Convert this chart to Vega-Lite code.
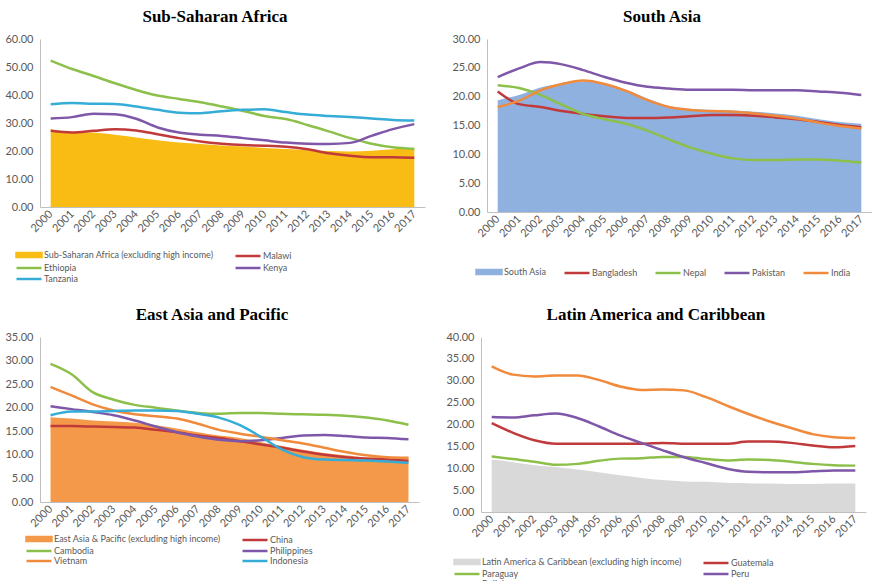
{
"$schema": "https://vega.github.io/schema/vega-lite/v6.json",
"background": "white",
"padding": {"left": 4, "top": 8, "right": 0, "bottom": 0},
"datasets": {
"ssa": [
{"year":"2000","series":"Sub-Saharan Africa (excluding high income)","value":27.8},
{"year":"2001","series":"Sub-Saharan Africa (excluding high income)","value":26.8},
{"year":"2002","series":"Sub-Saharan Africa (excluding high income)","value":26.6},
{"year":"2003","series":"Sub-Saharan Africa (excluding high income)","value":25.8},
{"year":"2004","series":"Sub-Saharan Africa (excluding high income)","value":24.8},
{"year":"2005","series":"Sub-Saharan Africa (excluding high income)","value":23.8},
{"year":"2006","series":"Sub-Saharan Africa (excluding high income)","value":23.0},
{"year":"2007","series":"Sub-Saharan Africa (excluding high income)","value":22.5},
{"year":"2008","series":"Sub-Saharan Africa (excluding high income)","value":22.0},
{"year":"2009","series":"Sub-Saharan Africa (excluding high income)","value":21.6},
{"year":"2010","series":"Sub-Saharan Africa (excluding high income)","value":21.1},
{"year":"2011","series":"Sub-Saharan Africa (excluding high income)","value":20.7},
{"year":"2012","series":"Sub-Saharan Africa (excluding high income)","value":20.3},
{"year":"2013","series":"Sub-Saharan Africa (excluding high income)","value":20.0},
{"year":"2014","series":"Sub-Saharan Africa (excluding high income)","value":19.8},
{"year":"2015","series":"Sub-Saharan Africa (excluding high income)","value":20.1},
{"year":"2016","series":"Sub-Saharan Africa (excluding high income)","value":20.6},
{"year":"2017","series":"Sub-Saharan Africa (excluding high income)","value":21.2},
{"year":"2000","series":"Malawi","value":27.2},
{"year":"2001","series":"Malawi","value":26.6},
{"year":"2002","series":"Malawi","value":27.2},
{"year":"2003","series":"Malawi","value":27.8},
{"year":"2004","series":"Malawi","value":27.3},
{"year":"2005","series":"Malawi","value":26.0},
{"year":"2006","series":"Malawi","value":24.6},
{"year":"2007","series":"Malawi","value":23.4},
{"year":"2008","series":"Malawi","value":22.6},
{"year":"2009","series":"Malawi","value":22.1},
{"year":"2010","series":"Malawi","value":21.9},
{"year":"2011","series":"Malawi","value":21.5},
{"year":"2012","series":"Malawi","value":20.6},
{"year":"2013","series":"Malawi","value":19.2},
{"year":"2014","series":"Malawi","value":18.3},
{"year":"2015","series":"Malawi","value":17.8},
{"year":"2016","series":"Malawi","value":17.8},
{"year":"2017","series":"Malawi","value":17.6},
{"year":"2000","series":"Ethiopia","value":52.3},
{"year":"2001","series":"Ethiopia","value":49.3},
{"year":"2002","series":"Ethiopia","value":46.8},
{"year":"2003","series":"Ethiopia","value":44.2},
{"year":"2004","series":"Ethiopia","value":41.8},
{"year":"2005","series":"Ethiopia","value":39.8},
{"year":"2006","series":"Ethiopia","value":38.6},
{"year":"2007","series":"Ethiopia","value":37.4},
{"year":"2008","series":"Ethiopia","value":35.9},
{"year":"2009","series":"Ethiopia","value":34.3},
{"year":"2010","series":"Ethiopia","value":32.5},
{"year":"2011","series":"Ethiopia","value":31.4},
{"year":"2012","series":"Ethiopia","value":29.3},
{"year":"2013","series":"Ethiopia","value":27.0},
{"year":"2014","series":"Ethiopia","value":24.6},
{"year":"2015","series":"Ethiopia","value":22.6},
{"year":"2016","series":"Ethiopia","value":21.3},
{"year":"2017","series":"Ethiopia","value":20.7},
{"year":"2000","series":"Kenya","value":31.6},
{"year":"2001","series":"Kenya","value":32.1},
{"year":"2002","series":"Kenya","value":33.3},
{"year":"2003","series":"Kenya","value":33.1},
{"year":"2004","series":"Kenya","value":31.5},
{"year":"2005","series":"Kenya","value":28.4},
{"year":"2006","series":"Kenya","value":26.6},
{"year":"2007","series":"Kenya","value":25.8},
{"year":"2008","series":"Kenya","value":25.4},
{"year":"2009","series":"Kenya","value":24.6},
{"year":"2010","series":"Kenya","value":23.8},
{"year":"2011","series":"Kenya","value":23.0},
{"year":"2012","series":"Kenya","value":22.6},
{"year":"2013","series":"Kenya","value":22.5},
{"year":"2014","series":"Kenya","value":22.9},
{"year":"2015","series":"Kenya","value":25.4},
{"year":"2016","series":"Kenya","value":27.8},
{"year":"2017","series":"Kenya","value":29.6},
{"year":"2000","series":"Tanzania","value":36.7},
{"year":"2001","series":"Tanzania","value":37.1},
{"year":"2002","series":"Tanzania","value":36.9},
{"year":"2003","series":"Tanzania","value":36.8},
{"year":"2004","series":"Tanzania","value":35.9},
{"year":"2005","series":"Tanzania","value":34.7},
{"year":"2006","series":"Tanzania","value":33.7},
{"year":"2007","series":"Tanzania","value":33.5},
{"year":"2008","series":"Tanzania","value":34.2},
{"year":"2009","series":"Tanzania","value":34.7},
{"year":"2010","series":"Tanzania","value":34.9},
{"year":"2011","series":"Tanzania","value":33.9},
{"year":"2012","series":"Tanzania","value":33.0},
{"year":"2013","series":"Tanzania","value":32.5},
{"year":"2014","series":"Tanzania","value":32.1},
{"year":"2015","series":"Tanzania","value":31.6},
{"year":"2016","series":"Tanzania","value":31.1},
{"year":"2017","series":"Tanzania","value":30.9}
],
"sa": [
{"year":"2000","series":"South Asia","value":19.4},
{"year":"2001","series":"South Asia","value":20.3},
{"year":"2002","series":"South Asia","value":21.6},
{"year":"2003","series":"South Asia","value":22.3},
{"year":"2004","series":"South Asia","value":22.6},
{"year":"2005","series":"South Asia","value":22.3},
{"year":"2006","series":"South Asia","value":21.2},
{"year":"2007","series":"South Asia","value":19.7},
{"year":"2008","series":"South Asia","value":18.4},
{"year":"2009","series":"South Asia","value":17.9},
{"year":"2010","series":"South Asia","value":17.7},
{"year":"2011","series":"South Asia","value":17.6},
{"year":"2012","series":"South Asia","value":17.4},
{"year":"2013","series":"South Asia","value":17.1},
{"year":"2014","series":"South Asia","value":16.7},
{"year":"2015","series":"South Asia","value":16.1},
{"year":"2016","series":"South Asia","value":15.6},
{"year":"2017","series":"South Asia","value":15.3},
{"year":"2000","series":"Bangladesh","value":20.9},
{"year":"2001","series":"Bangladesh","value":18.7},
{"year":"2002","series":"Bangladesh","value":18.2},
{"year":"2003","series":"Bangladesh","value":17.5},
{"year":"2004","series":"Bangladesh","value":17.0},
{"year":"2005","series":"Bangladesh","value":16.6},
{"year":"2006","series":"Bangladesh","value":16.3},
{"year":"2007","series":"Bangladesh","value":16.3},
{"year":"2008","series":"Bangladesh","value":16.4},
{"year":"2009","series":"Bangladesh","value":16.6},
{"year":"2010","series":"Bangladesh","value":16.8},
{"year":"2011","series":"Bangladesh","value":16.8},
{"year":"2012","series":"Bangladesh","value":16.7},
{"year":"2013","series":"Bangladesh","value":16.4},
{"year":"2014","series":"Bangladesh","value":16.1},
{"year":"2015","series":"Bangladesh","value":15.6},
{"year":"2016","series":"Bangladesh","value":15.1},
{"year":"2017","series":"Bangladesh","value":14.7},
{"year":"2000","series":"Nepal","value":22.0},
{"year":"2001","series":"Nepal","value":21.5},
{"year":"2002","series":"Nepal","value":20.3},
{"year":"2003","series":"Nepal","value":18.6},
{"year":"2004","series":"Nepal","value":17.0},
{"year":"2005","series":"Nepal","value":16.1},
{"year":"2006","series":"Nepal","value":15.3},
{"year":"2007","series":"Nepal","value":14.1},
{"year":"2008","series":"Nepal","value":12.6},
{"year":"2009","series":"Nepal","value":11.2},
{"year":"2010","series":"Nepal","value":10.1},
{"year":"2011","series":"Nepal","value":9.3},
{"year":"2012","series":"Nepal","value":9.0},
{"year":"2013","series":"Nepal","value":9.0},
{"year":"2014","series":"Nepal","value":9.1},
{"year":"2015","series":"Nepal","value":9.1},
{"year":"2016","series":"Nepal","value":8.9},
{"year":"2017","series":"Nepal","value":8.6},
{"year":"2000","series":"Pakistan","value":23.4},
{"year":"2001","series":"Pakistan","value":24.9},
{"year":"2002","series":"Pakistan","value":26.0},
{"year":"2003","series":"Pakistan","value":25.6},
{"year":"2004","series":"Pakistan","value":24.6},
{"year":"2005","series":"Pakistan","value":23.4},
{"year":"2006","series":"Pakistan","value":22.4},
{"year":"2007","series":"Pakistan","value":21.7},
{"year":"2008","series":"Pakistan","value":21.4},
{"year":"2009","series":"Pakistan","value":21.2},
{"year":"2010","series":"Pakistan","value":21.2},
{"year":"2011","series":"Pakistan","value":21.2},
{"year":"2012","series":"Pakistan","value":21.1},
{"year":"2013","series":"Pakistan","value":21.1},
{"year":"2014","series":"Pakistan","value":21.1},
{"year":"2015","series":"Pakistan","value":20.9},
{"year":"2016","series":"Pakistan","value":20.7},
{"year":"2017","series":"Pakistan","value":20.3},
{"year":"2000","series":"India","value":18.2},
{"year":"2001","series":"India","value":19.3},
{"year":"2002","series":"India","value":21.1},
{"year":"2003","series":"India","value":22.2},
{"year":"2004","series":"India","value":22.8},
{"year":"2005","series":"India","value":22.2},
{"year":"2006","series":"India","value":21.0},
{"year":"2007","series":"India","value":19.4},
{"year":"2008","series":"India","value":18.2},
{"year":"2009","series":"India","value":17.7},
{"year":"2010","series":"India","value":17.5},
{"year":"2011","series":"India","value":17.4},
{"year":"2012","series":"India","value":17.1},
{"year":"2013","series":"India","value":16.7},
{"year":"2014","series":"India","value":16.2},
{"year":"2015","series":"India","value":15.5},
{"year":"2016","series":"India","value":14.9},
{"year":"2017","series":"India","value":14.5}
],
"eap": [
{"year":"2000","series":"East Asia & Pacific (excluding high income)","value":18.0},
{"year":"2001","series":"East Asia & Pacific (excluding high income)","value":17.7},
{"year":"2002","series":"East Asia & Pacific (excluding high income)","value":17.3},
{"year":"2003","series":"East Asia & Pacific (excluding high income)","value":17.1},
{"year":"2004","series":"East Asia & Pacific (excluding high income)","value":16.8},
{"year":"2005","series":"East Asia & Pacific (excluding high income)","value":16.3},
{"year":"2006","series":"East Asia & Pacific (excluding high income)","value":15.6},
{"year":"2007","series":"East Asia & Pacific (excluding high income)","value":14.8},
{"year":"2008","series":"East Asia & Pacific (excluding high income)","value":14.1},
{"year":"2009","series":"East Asia & Pacific (excluding high income)","value":13.6},
{"year":"2010","series":"East Asia & Pacific (excluding high income)","value":12.7},
{"year":"2011","series":"East Asia & Pacific (excluding high income)","value":11.9},
{"year":"2012","series":"East Asia & Pacific (excluding high income)","value":11.1},
{"year":"2013","series":"East Asia & Pacific (excluding high income)","value":10.4},
{"year":"2014","series":"East Asia & Pacific (excluding high income)","value":9.9},
{"year":"2015","series":"East Asia & Pacific (excluding high income)","value":9.5},
{"year":"2016","series":"East Asia & Pacific (excluding high income)","value":9.5},
{"year":"2017","series":"East Asia & Pacific (excluding high income)","value":9.4},
{"year":"2000","series":"China","value":16.1},
{"year":"2001","series":"China","value":16.1},
{"year":"2002","series":"China","value":16.0},
{"year":"2003","series":"China","value":15.9},
{"year":"2004","series":"China","value":15.8},
{"year":"2005","series":"China","value":15.3},
{"year":"2006","series":"China","value":14.8},
{"year":"2007","series":"China","value":14.1},
{"year":"2008","series":"China","value":13.6},
{"year":"2009","series":"China","value":12.9},
{"year":"2010","series":"China","value":12.2},
{"year":"2011","series":"China","value":11.5},
{"year":"2012","series":"China","value":10.7},
{"year":"2013","series":"China","value":10.0},
{"year":"2014","series":"China","value":9.5},
{"year":"2015","series":"China","value":9.2},
{"year":"2016","series":"China","value":9.0},
{"year":"2017","series":"China","value":8.7},
{"year":"2000","series":"Cambodia","value":29.3},
{"year":"2001","series":"Cambodia","value":27.1},
{"year":"2002","series":"Cambodia","value":23.3},
{"year":"2003","series":"Cambodia","value":21.7},
{"year":"2004","series":"Cambodia","value":20.6},
{"year":"2005","series":"Cambodia","value":20.0},
{"year":"2006","series":"Cambodia","value":19.4},
{"year":"2007","series":"Cambodia","value":18.9},
{"year":"2008","series":"Cambodia","value":18.7},
{"year":"2009","series":"Cambodia","value":18.9},
{"year":"2010","series":"Cambodia","value":18.9},
{"year":"2011","series":"Cambodia","value":18.7},
{"year":"2012","series":"Cambodia","value":18.6},
{"year":"2013","series":"Cambodia","value":18.5},
{"year":"2014","series":"Cambodia","value":18.3},
{"year":"2015","series":"Cambodia","value":17.9},
{"year":"2016","series":"Cambodia","value":17.3},
{"year":"2017","series":"Cambodia","value":16.4},
{"year":"2000","series":"Philippines","value":20.3},
{"year":"2001","series":"Philippines","value":19.7},
{"year":"2002","series":"Philippines","value":19.1},
{"year":"2003","series":"Philippines","value":18.4},
{"year":"2004","series":"Philippines","value":17.3},
{"year":"2005","series":"Philippines","value":16.0},
{"year":"2006","series":"Philippines","value":14.8},
{"year":"2007","series":"Philippines","value":13.9},
{"year":"2008","series":"Philippines","value":13.2},
{"year":"2009","series":"Philippines","value":12.9},
{"year":"2010","series":"Philippines","value":13.1},
{"year":"2011","series":"Philippines","value":13.6},
{"year":"2012","series":"Philippines","value":14.1},
{"year":"2013","series":"Philippines","value":14.2},
{"year":"2014","series":"Philippines","value":14.0},
{"year":"2015","series":"Philippines","value":13.7},
{"year":"2016","series":"Philippines","value":13.6},
{"year":"2017","series":"Philippines","value":13.3},
{"year":"2000","series":"Vietnam","value":24.4},
{"year":"2001","series":"Vietnam","value":22.6},
{"year":"2002","series":"Vietnam","value":20.7},
{"year":"2003","series":"Vietnam","value":19.4},
{"year":"2004","series":"Vietnam","value":18.6},
{"year":"2005","series":"Vietnam","value":18.2},
{"year":"2006","series":"Vietnam","value":17.7},
{"year":"2007","series":"Vietnam","value":16.6},
{"year":"2008","series":"Vietnam","value":15.3},
{"year":"2009","series":"Vietnam","value":14.5},
{"year":"2010","series":"Vietnam","value":13.8},
{"year":"2011","series":"Vietnam","value":13.1},
{"year":"2012","series":"Vietnam","value":12.4},
{"year":"2013","series":"Vietnam","value":11.5},
{"year":"2014","series":"Vietnam","value":10.6},
{"year":"2015","series":"Vietnam","value":9.9},
{"year":"2016","series":"Vietnam","value":9.5},
{"year":"2017","series":"Vietnam","value":9.4},
{"year":"2000","series":"Indonesia","value":18.4},
{"year":"2001","series":"Indonesia","value":19.2},
{"year":"2002","series":"Indonesia","value":19.2},
{"year":"2003","series":"Indonesia","value":19.3},
{"year":"2004","series":"Indonesia","value":19.4},
{"year":"2005","series":"Indonesia","value":19.4},
{"year":"2006","series":"Indonesia","value":19.3},
{"year":"2007","series":"Indonesia","value":18.7},
{"year":"2008","series":"Indonesia","value":17.9},
{"year":"2009","series":"Indonesia","value":16.3},
{"year":"2010","series":"Indonesia","value":13.8},
{"year":"2011","series":"Indonesia","value":11.1},
{"year":"2012","series":"Indonesia","value":9.5},
{"year":"2013","series":"Indonesia","value":9.0},
{"year":"2014","series":"Indonesia","value":8.9},
{"year":"2015","series":"Indonesia","value":8.8},
{"year":"2016","series":"Indonesia","value":8.6},
{"year":"2017","series":"Indonesia","value":8.3}
],
"lac": [
{"year":"2000","series":"Latin America & Caribbean (excluding high income)","value":12.0},
{"year":"2001","series":"Latin America & Caribbean (excluding high income)","value":11.4},
{"year":"2002","series":"Latin America & Caribbean (excluding high income)","value":10.7},
{"year":"2003","series":"Latin America & Caribbean (excluding high income)","value":10.3},
{"year":"2004","series":"Latin America & Caribbean (excluding high income)","value":9.7},
{"year":"2005","series":"Latin America & Caribbean (excluding high income)","value":9.1},
{"year":"2006","series":"Latin America & Caribbean (excluding high income)","value":8.4},
{"year":"2007","series":"Latin America & Caribbean (excluding high income)","value":7.8},
{"year":"2008","series":"Latin America & Caribbean (excluding high income)","value":7.3},
{"year":"2009","series":"Latin America & Caribbean (excluding high income)","value":7.0},
{"year":"2010","series":"Latin America & Caribbean (excluding high income)","value":6.9},
{"year":"2011","series":"Latin America & Caribbean (excluding high income)","value":6.7},
{"year":"2012","series":"Latin America & Caribbean (excluding high income)","value":6.6},
{"year":"2013","series":"Latin America & Caribbean (excluding high income)","value":6.5},
{"year":"2014","series":"Latin America & Caribbean (excluding high income)","value":6.4},
{"year":"2015","series":"Latin America & Caribbean (excluding high income)","value":6.4},
{"year":"2016","series":"Latin America & Caribbean (excluding high income)","value":6.5},
{"year":"2017","series":"Latin America & Caribbean (excluding high income)","value":6.5},
{"year":"2000","series":"Guatemala","value":20.3},
{"year":"2001","series":"Guatemala","value":18.1},
{"year":"2002","series":"Guatemala","value":16.4},
{"year":"2003","series":"Guatemala","value":15.6},
{"year":"2004","series":"Guatemala","value":15.6},
{"year":"2005","series":"Guatemala","value":15.6},
{"year":"2006","series":"Guatemala","value":15.6},
{"year":"2007","series":"Guatemala","value":15.6},
{"year":"2008","series":"Guatemala","value":15.8},
{"year":"2009","series":"Guatemala","value":15.6},
{"year":"2010","series":"Guatemala","value":15.6},
{"year":"2011","series":"Guatemala","value":15.6},
{"year":"2012","series":"Guatemala","value":16.1},
{"year":"2013","series":"Guatemala","value":16.1},
{"year":"2014","series":"Guatemala","value":15.8},
{"year":"2015","series":"Guatemala","value":15.2},
{"year":"2016","series":"Guatemala","value":14.8},
{"year":"2017","series":"Guatemala","value":15.1},
{"year":"2000","series":"Paraguay","value":12.7},
{"year":"2001","series":"Paraguay","value":12.1},
{"year":"2002","series":"Paraguay","value":11.5},
{"year":"2003","series":"Paraguay","value":10.8},
{"year":"2004","series":"Paraguay","value":11.0},
{"year":"2005","series":"Paraguay","value":11.7},
{"year":"2006","series":"Paraguay","value":12.2},
{"year":"2007","series":"Paraguay","value":12.3},
{"year":"2008","series":"Paraguay","value":12.6},
{"year":"2009","series":"Paraguay","value":12.6},
{"year":"2010","series":"Paraguay","value":12.1},
{"year":"2011","series":"Paraguay","value":11.8},
{"year":"2012","series":"Paraguay","value":12.0},
{"year":"2013","series":"Paraguay","value":11.9},
{"year":"2014","series":"Paraguay","value":11.5},
{"year":"2015","series":"Paraguay","value":11.0},
{"year":"2016","series":"Paraguay","value":10.7},
{"year":"2017","series":"Paraguay","value":10.6},
{"year":"2000","series":"Peru","value":21.7},
{"year":"2001","series":"Peru","value":21.6},
{"year":"2002","series":"Peru","value":22.1},
{"year":"2003","series":"Peru","value":22.5},
{"year":"2004","series":"Peru","value":21.5},
{"year":"2005","series":"Peru","value":19.6},
{"year":"2006","series":"Peru","value":17.5},
{"year":"2007","series":"Peru","value":15.8},
{"year":"2008","series":"Peru","value":14.1},
{"year":"2009","series":"Peru","value":12.5},
{"year":"2010","series":"Peru","value":11.2},
{"year":"2011","series":"Peru","value":9.9},
{"year":"2012","series":"Peru","value":9.2},
{"year":"2013","series":"Peru","value":9.1},
{"year":"2014","series":"Peru","value":9.1},
{"year":"2015","series":"Peru","value":9.3},
{"year":"2016","series":"Peru","value":9.5},
{"year":"2017","series":"Peru","value":9.5},
{"year":"2000","series":"Bolivia","value":33.3},
{"year":"2001","series":"Bolivia","value":31.4},
{"year":"2002","series":"Bolivia","value":31.0},
{"year":"2003","series":"Bolivia","value":31.2},
{"year":"2004","series":"Bolivia","value":31.2},
{"year":"2005","series":"Bolivia","value":30.2},
{"year":"2006","series":"Bolivia","value":28.7},
{"year":"2007","series":"Bolivia","value":27.9},
{"year":"2008","series":"Bolivia","value":28.0},
{"year":"2009","series":"Bolivia","value":27.8},
{"year":"2010","series":"Bolivia","value":26.3},
{"year":"2011","series":"Bolivia","value":24.3},
{"year":"2012","series":"Bolivia","value":22.4},
{"year":"2013","series":"Bolivia","value":20.7},
{"year":"2014","series":"Bolivia","value":19.2},
{"year":"2015","series":"Bolivia","value":17.8},
{"year":"2016","series":"Bolivia","value":17.1},
{"year":"2017","series":"Bolivia","value":16.9}
]
},
"vconcat": [
{
"hconcat": [
{
"title": "Sub-Saharan Africa",
"width": 385, "height": 168,
"data": {"name": "ssa"},
"encoding": {
"x": {"field": "year", "type": "ordinal", "scale": {"type": "point", "padding": 0.5}},
"y": {"field": "value", "type": "quantitative", "scale": {"domain": [0, 60], "nice": false}, "axis": {"values": [0, 10, 20, 30, 40, 50, 60]}},
"color": {"field": "series", "type": "nominal",
"scale": {"domain": ["Sub-Saharan Africa (excluding high income)", "Malawi", "Ethiopia", "Kenya", "Tanzania"], "range": ["#F9BC15", "#C0393B", "#8DC04A", "#7F57A8", "#35ADD6"]},
"legend": {"orient": "none", "legendX": -25, "legendY": 211, "direction": "horizontal", "columns": 2, "columnPadding": 16,
"encode": {"symbols": {"update": {"shape": {"signal": "datum.index === 0 ? 'M-1,-0.55H6.14V0.55H-1Z' : 'M-1,0H6.14'"}, "fill": {"value": "#F9BC15"}}}}}}
},
"layer": [
{"transform": [{"filter": "datum.series === 'Sub-Saharan Africa (excluding high income)'"}], "mark": {"type": "area", "interpolate": "monotone", "opacity": 1}},
{"transform": [{"filter": "datum.series !== 'Sub-Saharan Africa (excluding high income)'"}], "mark": {"type": "line", "interpolate": "monotone", "strokeWidth": 2.5}}
]
},
{
"title": "South Asia",
"width": 385, "height": 173,
"data": {"name": "sa"},
"encoding": {
"x": {"field": "year", "type": "ordinal", "scale": {"type": "point", "padding": 0.5}},
"y": {"field": "value", "type": "quantitative", "scale": {"domain": [0, 30], "nice": false}, "axis": {"values": [0, 5, 10, 15, 20, 25, 30]}},
"color": {"field": "series", "type": "nominal",
"scale": {"domain": ["South Asia", "Bangladesh", "Nepal", "Pakistan", "India"], "range": ["#8EB1DF", "#C0393B", "#8DC04A", "#7F57A8", "#F08A3C"]},
"legend": {"orient": "none", "legendX": -12, "legendY": 228, "direction": "horizontal", "columns": 5, "columnPadding": 12,
"encode": {"symbols": {"update": {"shape": {"signal": "datum.index === 0 ? 'M-1,-0.55H6.14V0.55H-1Z' : 'M-1,0H6.14'"}, "fill": {"value": "#8EB1DF"}}}}}}
},
"layer": [
{"transform": [{"filter": "datum.series === 'South Asia'"}], "mark": {"type": "area", "interpolate": "monotone", "opacity": 1}},
{"transform": [{"filter": "datum.series !== 'South Asia'"}], "mark": {"type": "line", "interpolate": "monotone", "strokeWidth": 2.5}}
]
}
],
"spacing": 26,
"resolve": {"scale": {"color": "independent"}}
},
{
"hconcat": [
{
"title": "East Asia and Pacific",
"width": 379, "height": 165,
"data": {"name": "eap"},
"encoding": {
"x": {"field": "year", "type": "ordinal", "scale": {"type": "point", "padding": 0.5}},
"y": {"field": "value", "type": "quantitative", "scale": {"domain": [0, 35], "nice": false}, "axis": {"values": [0, 5, 10, 15, 20, 25, 30, 35]}},
"color": {"field": "series", "type": "nominal",
"scale": {"domain": ["East Asia & Pacific (excluding high income)", "China", "Cambodia", "Philippines", "Vietnam", "Indonesia"], "range": ["#F4994A", "#C0393B", "#8DC04A", "#7F57A8", "#F08A3C", "#35ADD6"]},
"legend": {"orient": "none", "legendX": -15, "legendY": 197, "direction": "horizontal", "columns": 2, "columnPadding": 16, "rowPadding": 0,
"encode": {"symbols": {"update": {"shape": {"signal": "datum.index === 0 ? 'M-1,-0.55H6.14V0.55H-1Z' : 'M-1,0H6.14'"}, "fill": {"value": "#F4994A"}}}}}}
},
"layer": [
{"transform": [{"filter": "datum.series === 'East Asia & Pacific (excluding high income)'"}], "mark": {"type": "area", "interpolate": "monotone", "opacity": 1}},
{"transform": [{"filter": "datum.series !== 'East Asia & Pacific (excluding high income)'"}], "mark": {"type": "line", "interpolate": "monotone", "strokeWidth": 2.5}}
]
},
{
"title": "Latin America and Caribbean",
"width": 385, "height": 175,
"data": {"name": "lac"},
"encoding": {
"x": {"field": "year", "type": "ordinal", "scale": {"type": "point", "padding": 0.5}},
"y": {"field": "value", "type": "quantitative", "scale": {"domain": [0, 40], "nice": false}, "axis": {"values": [0, 5, 10, 15, 20, 25, 30, 35, 40]}},
"color": {"field": "series", "type": "nominal",
"scale": {"domain": ["Latin America & Caribbean (excluding high income)", "Guatemala", "Paraguay", "Peru", "Bolivia"], "range": ["#D9D9D9", "#C0393B", "#8DC04A", "#7F57A8", "#F08A3C"]},
"legend": {"orient": "none", "legendX": -28, "legendY": 220, "direction": "horizontal", "columns": 2, "columnPadding": 16, "rowPadding": 0,
"encode": {"symbols": {"update": {"shape": {"signal": "datum.index === 0 ? 'M-1,-0.55H6.14V0.55H-1Z' : 'M-1,0H6.14'"}, "fill": {"value": "#D9D9D9"}}}}}}
},
"layer": [
{"transform": [{"filter": "datum.series === 'Latin America & Caribbean (excluding high income)'"}], "mark": {"type": "area", "interpolate": "monotone", "opacity": 1}},
{"transform": [{"filter": "datum.series !== 'Latin America & Caribbean (excluding high income)'"}], "mark": {"type": "line", "interpolate": "monotone", "strokeWidth": 2.5}}
]
}
],
"spacing": 26,
"resolve": {"scale": {"color": "independent"}}
}
],
"spacing": 22,
"resolve": {"scale": {"color": "independent"}},
"config": {
"view": {"stroke": null},
"title": {"font": "Liberation Serif", "fontSize": 17, "fontWeight": "bold", "color": "#000000", "anchor": "middle", "frame": "bounds", "offset": 7},
"axis": {"labelFont": "Lato", "labelFontSize": 11, "labelColor": "#595959", "domainColor": "#BFBFBF", "ticks": false, "title": null, "grid": false},
"axisX": {"labelAngle": -45, "labelAlign": "right", "labelBaseline": "middle", "labelPadding": 5, "labelOverlap": false},
"axisY": {"format": ".2f", "labelPadding": 7},
"legend": {"title": null, "symbolType": "M-1,0H6.14", "symbolSize": 49, "symbolStrokeWidth": 2.5, "labelFont": "Lato", "labelFontSize": 9, "labelColor": "#595959", "labelOffset": 19, "labelLimit": 400, "rowPadding": 1, "symbolOpacity": 1}
}
}
